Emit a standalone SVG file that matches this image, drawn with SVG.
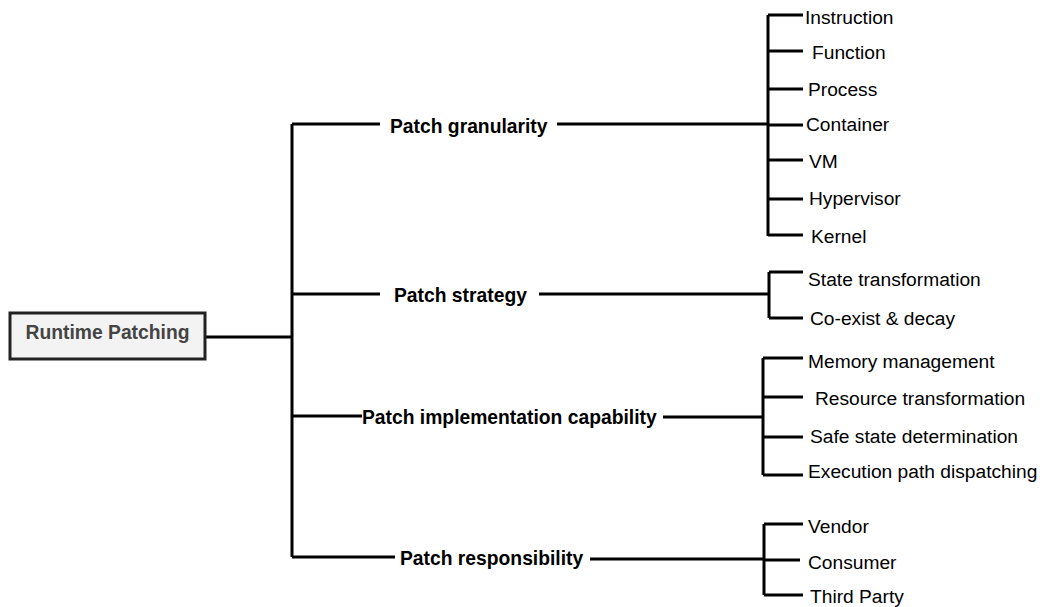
<svg xmlns="http://www.w3.org/2000/svg" width="1040" height="607" viewBox="0 0 1040 607">
<style>
.ln{stroke:#000;stroke-width:3;fill:none}
.br{font-family:"Liberation Sans",Arial,sans-serif;font-size:19.3px;font-weight:bold;fill:#000}
.lf{font-family:"Liberation Sans",Arial,sans-serif;font-size:19.2px;fill:#000}
.rt{font-family:"Liberation Sans",Arial,sans-serif;font-size:19.3px;font-weight:bold;fill:#444}
</style>
<rect width="1040" height="607" fill="#fff"/>
<g id="connectors">
<path class="ln" d="M206 337H292M292 124V557M292 124H380M557 124H768M768 15V236M768 15H803M768 51H803M768 89H803M768 125H803M768 160H803M768 199H803M768 235H803"/>
<path class="ln" d="M292 294H380M539 294H769M769 272V318M769 272H803M769 318H803"/>
<path class="ln" d="M292 416H362M663 417H763M763 358V475M763 358H803M763 397H803M763 437H803M763 475H803"/>
<path class="ln" d="M292 557H395M590 559H764M764 524V595M764 524H803M764 560H800M764 595H803"/>
</g>
<g id="root">
<rect x="10" y="313" width="195" height="46" fill="#f3f3f3" stroke="#222" stroke-width="3"/>
<text class="rt" x="107.5" y="339" text-anchor="middle">Runtime Patching</text>
</g>
<g id="granularity"><text class="br" x="390" y="133">Patch granularity</text></g>
<g id="strategy"><text class="br" x="394" y="302">Patch strategy</text></g>
<g id="implementation"><text class="br" x="362" y="424">Patch implementation capability</text></g>
<g id="responsibility"><text class="br" x="400" y="565">Patch responsibility</text></g>
<g id="instruction"><text class="lf" x="805" y="24">Instruction</text></g>
<g id="function"><text class="lf" x="812" y="59">Function</text></g>
<g id="process"><text class="lf" x="808" y="96">Process</text></g>
<g id="container"><text class="lf" x="806" y="131">Container</text></g>
<g id="vm"><text class="lf" x="809" y="168">VM</text></g>
<g id="hypervisor"><text class="lf" x="809" y="205">Hypervisor</text></g>
<g id="kernel"><text class="lf" x="811" y="243">Kernel</text></g>
<g id="state-transformation"><text class="lf" x="808" y="286">State transformation</text></g>
<g id="coexist"><text class="lf" x="810" y="325">Co-exist &amp; decay</text></g>
<g id="memory"><text class="lf" x="808" y="368">Memory management</text></g>
<g id="resource"><text class="lf" x="815" y="405">Resource transformation</text></g>
<g id="safe-state"><text class="lf" x="810" y="443">Safe state determination</text></g>
<g id="execution"><text class="lf" x="808" y="478">Execution path dispatching</text></g>
<g id="vendor"><text class="lf" x="808" y="533">Vendor</text></g>
<g id="consumer"><text class="lf" x="808" y="569">Consumer</text></g>
<g id="third-party"><text class="lf" x="810" y="603">Third Party</text></g>
</svg>
